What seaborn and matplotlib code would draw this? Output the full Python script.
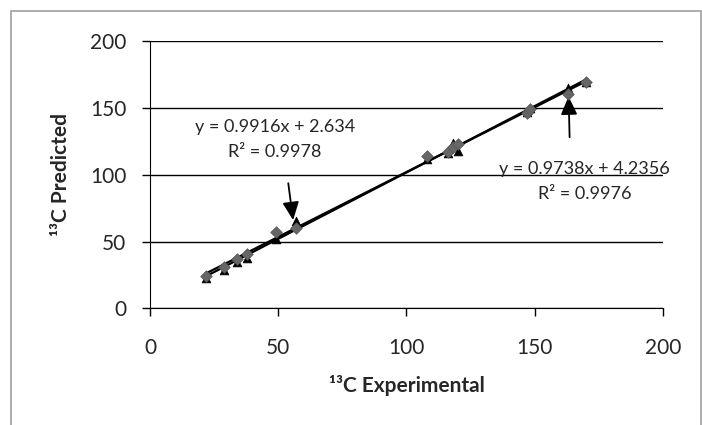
import numpy as np
import pandas as pd
import matplotlib.pyplot as plt
import matplotlib.patches as mpatches
import seaborn as sns

# experimental shifts (x) and two sets of predicted shifts
experimental = [22, 29, 34, 38, 49, 57, 108, 116, 118, 120, 147, 148, 163, 170]
pred_diamond = [24, 31, 37, 41, 57, 60, 114, 117, 121, 123, 146, 149, 160, 169]
pred_triangle = [23, 29, 35, 38, 52, 65, 112, 116, 124, 118, 147, 150, 165, 169]

eq1 = ['y = 0.9916x + 2.634', 'R² = 0.9978']
eq2 = ['y = 0.9738x + 4.2356', 'R² = 0.9976']

df = pd.DataFrame({'exp': experimental, 'd': pred_diamond, 't': pred_triangle})

sns.set_style('white')
plt.rcParams['font.family'] = ['Lato', 'DejaVu Sans']

fig = plt.figure(figsize=(7.02, 4.25), dpi=100)
ax = fig.add_axes([0.2137, 0.2745, 0.7307, 0.6290])

# fitted lines
sns.regplot(data=df, x='exp', y='d', ax=ax, scatter=False, ci=None,
            line_kws=dict(color='k', lw=1.6), truncate=True)
sns.regplot(data=df, x='exp', y='t', ax=ax, scatter=False, ci=None,
            line_kws=dict(color='k', lw=1.6), truncate=True)

sns.scatterplot(data=df, x='exp', y='t', ax=ax, marker='^', color='black',
                s=40, edgecolor='black', linewidth=0.5, zorder=3)
sns.scatterplot(data=df, x='exp', y='d', ax=ax, marker='D', color='#666666',
                s=35, edgecolor='#555555', linewidth=0.5, zorder=4)

ax.set_xlim(0, 200)
ax.set_ylim(0, 200)
ax.set_xticks([0, 50, 100, 150, 200])
ax.set_yticks([0, 50, 100, 150, 200])
ax.yaxis.grid(True, color='black', lw=1)
ax.xaxis.grid(False)
ax.set_axisbelow(True)
ax.spines[['top', 'right']].set_visible(False)
ax.spines['left'].set_color('black')
ax.spines['bottom'].set_color('black')
ax.tick_params(axis='both', direction='out', length=6, width=1, color='black',
               labelsize=15, bottom=True, left=True)
ax.tick_params(axis='x', pad=15)
ax.tick_params(axis='y', pad=11)

ax.set_xlabel('¹³C Experimental', fontsize=15, fontweight='bold')
ax.set_ylabel('¹³C Predicted', fontsize=15, fontweight='bold')
ax.xaxis.set_label_coords(0.5, -0.287)
ax.xaxis.label.set_va('center')
ax.yaxis.set_label_coords(-0.1735, 0.5)
ax.yaxis.label.set_va('center')

ax.text(48.7, 136, eq1[0], ha='center', va='center', fontsize=13)
ax.text(48.7, 117.3, eq1[1], ha='center', va='center', fontsize=13)
ax.text(169.5, 104.3, eq2[0], ha='center', va='center', fontsize=13, clip_on=False)
ax.text(169.5, 85.4, eq2[1], ha='center', va='center', fontsize=13)

arrow = dict(arrowstyle='-|>,head_length=1.1,head_width=0.5', color='k', lw=1.3,
             mutation_scale=10, shrinkA=0, shrinkB=0)
ax.annotate('', xy=(55.8, 66), xytext=(53.9, 93.6), arrowprops=arrow)
ax.annotate('', xy=(163.2, 158.5), xytext=(163.6, 128), arrowprops=arrow)

fig.patches.append(mpatches.Rectangle((10.5 / 702, -0.1), 690 / 702, 1 - 11 / 425 + 0.1,
                                      transform=fig.transFigure, fill=False,
                                      edgecolor='#a0a0a0', lw=1.2))

fig.savefig('out.png', dpi=100)
